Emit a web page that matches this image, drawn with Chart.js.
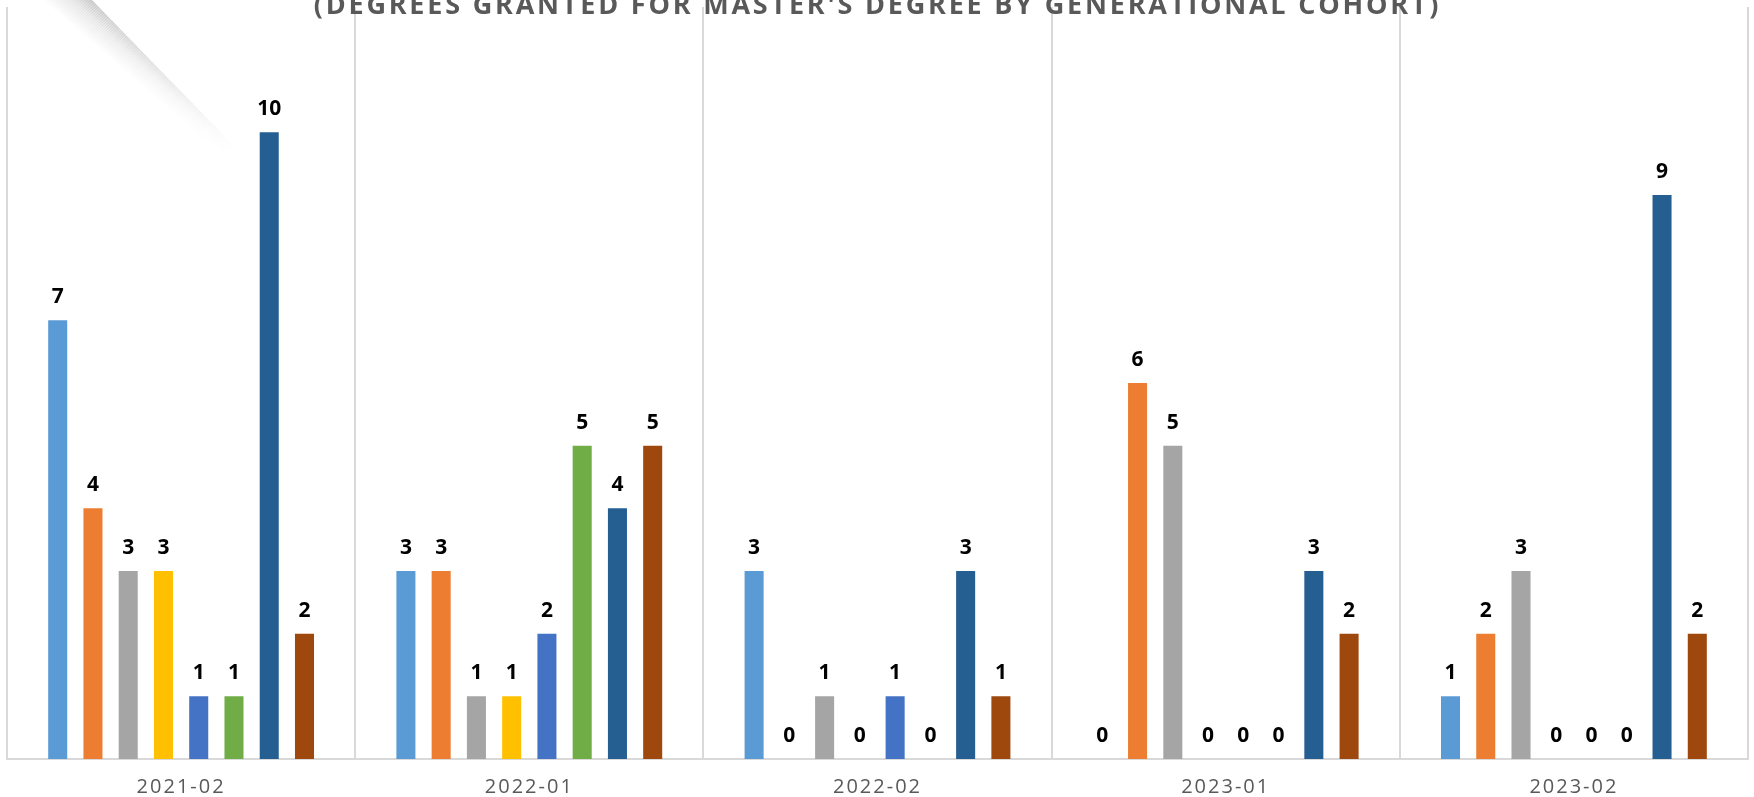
<!DOCTYPE html>
<html>
<head>
<meta charset="utf-8">
<script src="https://cdn.jsdelivr.net/npm/chart.js@4/dist/chart.umd.min.js"></script>
<style>
html,body{margin:0;padding:0;background:#ffffff;overflow:hidden;}
#wrap{position:absolute;left:0;top:0;width:1754px;height:817px;}
</style>
</head>
<body>
<div id="wrap"><canvas id="c"></canvas></div>
<script>
// ---- data ----
const categories = ['2021-02', '2022-01', '2022-02', '2023-01', '2023-02'];
const seriesNames = ['Series 1', 'Series 2', 'Series 3', 'Series 4', 'Series 5', 'Series 6', 'Series 7', 'Series 8'];
const series1 = [7, 3, 3, 0, 1];
const series2 = [4, 3, 0, 6, 2];
const series3 = [3, 1, 1, 5, 3];
const series4 = [3, 1, 0, 0, 0];
const series5 = [1, 2, 1, 0, 0];
const series6 = [1, 5, 0, 0, 0];
const series7 = [10, 4, 3, 3, 9];
const series8 = [2, 5, 1, 2, 2];
const titleText = "(DEGREES GRANTED FOR MASTER'S DEGREE BY GENERATIONAL COHORT)";

// ---- styles ----
const colors = ['#5B9BD5', '#ED7D31', '#A5A5A5', '#FFC000', '#4472C4', '#70AD47', '#255E91', '#9E480E'];
const allSeries = [series1, series2, series3, series4, series5, series6, series7, series8];

const datasets = allSeries.map((d, i) => ({
  label: seriesNames[i],
  data: d,
  backgroundColor: colors[i],
  borderWidth: 0,
  categoryPercentage: 0.81,
  barPercentage: 0.54
}));

const spacingPlugin = {
  id: 'spacing',
  beforeDraw(chart) { chart.ctx.letterSpacing = '2.8px'; },      // title
  afterDatasetsDraw(chart) { chart.ctx.letterSpacing = '2px'; }  // axis labels (drawn after datasets)
};

const valueLabels = {
  id: 'valueLabels',
  afterDatasetsDraw(chart) {
    const ctx = chart.ctx;
    ctx.save();
    ctx.letterSpacing = '0px';
    ctx.font = 'bold 21px "Open Sans"';
    ctx.fillStyle = '#000000';
    ctx.textAlign = 'center';
    ctx.textBaseline = 'alphabetic';
    chart.data.datasets.forEach((ds, i) => {
      const meta = chart.getDatasetMeta(i);
      meta.data.forEach((bar, j) => {
        ctx.fillText(String(ds.data[j]), bar.x, bar.y - 17);
      });
    });
    ctx.restore();
  }
};

const pageCurl = {
  id: 'pageCurl',
  afterDraw(chart) {
    const ctx = chart.ctx;
    ctx.save();
    ctx.letterSpacing = '0px';
    const x0 = 92, y0 = 0, x1 = 235, y1 = 147;
    const L = Math.hypot(x1 - x0, y1 - y0);
    const a = Math.atan2(y1 - y0, x1 - x0);
    ctx.translate(x0, y0);
    ctx.rotate(a);
    const W = 36, uStart = -40, steps = 120;
    for (let k = 0; k < steps; k++) {
      const u = uStart + (L - uStart) * k / steps;
      const du = (L - uStart) / steps + 0.6;
      const f = Math.pow(1 - (u - uStart) / (L - uStart), 1.1);
      const w = W * (0.45 + 0.55 * f);
      const g = ctx.createLinearGradient(0, 0, 0, w);
      g.addColorStop(0, 'rgba(0,0,0,' + (0.19 * f).toFixed(3) + ')');
      g.addColorStop(0.4, 'rgba(0,0,0,' + (0.08 * f).toFixed(3) + ')');
      g.addColorStop(1, 'rgba(0,0,0,0)');
      ctx.fillStyle = g;
      ctx.fillRect(u, 0, du, w);
    }
    ctx.restore();
  }
};

new Chart(document.getElementById('c'), {
  type: 'bar',
  data: { labels: categories, datasets: datasets },
  plugins: [spacingPlugin, valueLabels, pageCurl],
  options: {
    responsive: true,
    maintainAspectRatio: false,
    animation: false,
    layout: { padding: { left: 7, right: 6, top: 0, bottom: 2 } },
    plugins: {
      legend: { display: false },
      tooltip: { enabled: false },
      title: {
        display: true,
        text: titleText,
        color: '#595959',
        font: { family: '"Open Sans"', size: 27, weight: 'bold', lineHeight: 1.2 },
        padding: { top: -10.2, bottom: -15.2 }
      }
    },
    scales: {
      x: {
        grid: { color: '#d9d9d9', lineWidth: 2, drawTicks: false, offset: true },
        border: { color: '#d9d9d9', width: 2 },
        ticks: { color: '#595959', font: { family: '"Open Sans"', size: 20 }, padding: 16, z: 1 }
      },
      y: {
        display: false,
        min: 0,
        max: 12
      }
    }
  }
});
</script>
</body>
</html>
